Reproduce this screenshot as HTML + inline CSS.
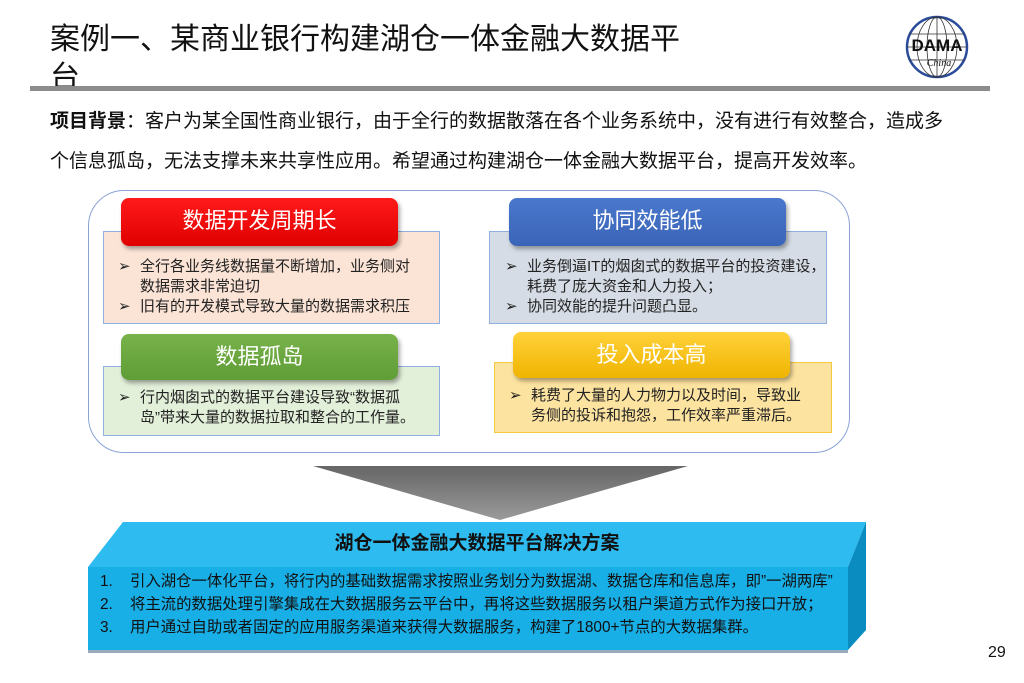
<!DOCTYPE html>
<html><head><meta charset="utf-8"><style>
*{margin:0;padding:0;box-sizing:border-box}
body{width:1024px;height:683px;background:#fff;position:relative;overflow:hidden;font-family:"Liberation Sans","Noto Sans CJK SC",sans-serif}
.a{position:absolute}
.t{font-size:30px;color:#111;line-height:36px}
.hd{position:absolute;border-radius:8px;color:#fff;font-size:22px;text-align:center;line-height:46px;box-shadow:2px 3px 4px rgba(0,0,0,.35)}
.bd{position:absolute;border:1.5px solid #8fb0e0}
.li{position:absolute;font-size:15px;line-height:20px;color:#222}
.li span{position:absolute;left:-22px}
</style></head><body>
<div class="a t" style="left:50px;top:22px">案例一、某商业银行构建湖仓一体金融大数据平</div>
<div class="a t" style="left:50px;top:60px">台</div>
<div class="a" style="left:30px;top:86px;width:960px;height:5px;background:#8c8c8c"></div>
<svg class="a" style="left:900px;top:14px" width="74" height="66" viewBox="0 0 74 66">
<circle cx="37" cy="33" r="30" fill="#fff" stroke="#2a4a9a" stroke-width="2.5"/>
<g stroke="#333" stroke-width="0.8" fill="none"><ellipse cx="37" cy="33" rx="10" ry="30"/><ellipse cx="37" cy="33" rx="20" ry="30"/><line x1="37" y1="3" x2="37" y2="63"/><line x1="9" y1="20" x2="65" y2="20"/><line x1="7" y1="33" x2="67" y2="33"/><line x1="9" y1="46" x2="65" y2="46"/></g>
<text x="37" y="37" font-family="Liberation Sans" font-weight="bold" font-size="17" text-anchor="middle" fill="#111">DAMA</text>
<text x="39" y="52" font-family="Liberation Serif" font-style="italic" font-size="10" text-anchor="middle" fill="#111">China</text>
</svg>
<div class="a" style="left:50px;top:102px;font-size:19px;line-height:40px;color:#111;width:960px;white-space:nowrap"><b>项目背景</b>：客户为某全国性商业银行，由于全行的数据散落在各个业务系统中，没有进行有效整合，造成多<br>个信息孤岛，无法支撑未来共享性应用。希望通过构建湖仓一体金融大数据平台，提高开发效率。</div>
<div class="a" style="left:88px;top:190px;width:762px;height:263px;border:1.5px solid #8aa4d6;border-radius:36px"></div>

<div class="bd" style="left:103px;top:231px;width:337px;height:93px;background:#fbe4d6"></div>
<div class="hd" style="left:121px;top:198px;width:277px;height:48px;background:linear-gradient(#ff1a1a,#e00000)">数据开发周期长</div>
<div class="li" style="left:140px;top:257px;width:275px"><span>➢</span>全行各业务线数据量不断增加，业务侧对数据需求非常迫切</div>
<div class="li" style="left:140px;top:297px;white-space:nowrap"><span>➢</span>旧有的开发模式导致大量的数据需求积压</div>

<div class="bd" style="left:103px;top:366px;width:337px;height:70px;background:#e2efd9"></div>
<div class="hd" style="left:121px;top:334px;width:277px;height:46px;background:linear-gradient(#78b24a,#5f9d36)">数据孤岛</div>
<div class="li" style="left:140px;top:388px;width:275px"><span>➢</span>行内烟囱式的数据平台建设导致“数据孤岛”带来大量的数据拉取和整合的工作量。</div>

<div class="bd" style="left:489px;top:231px;width:338px;height:93px;background:#d6dce5"></div>
<div class="hd" style="left:509px;top:198px;width:277px;height:48px;background:linear-gradient(#4a78cc,#3a64b8)">协同效能低</div>
<div class="li" style="left:527px;top:257px;width:300px"><span>➢</span>业务倒逼IT的烟囱式的数据平台的投资建设，耗费了庞大资金和人力投入；</div>
<div class="li" style="left:527px;top:297px"><span>➢</span>协同效能的提升问题凸显。</div>

<div class="bd" style="left:494px;top:362px;width:338px;height:71px;background:#fde3a0;border-color:#f5c842"></div>
<div class="hd" style="left:513px;top:332px;width:277px;height:46px;background:linear-gradient(#ffd23a,#f0b400)">投入成本高</div>
<div class="li" style="left:531px;top:386px;width:275px"><span>➢</span>耗费了大量的人力物力以及时间，导致业务侧的投诉和抱怨，工作效率严重滞后。</div>

<svg class="a" style="left:0;top:0" width="1024" height="683">
<defs><linearGradient id="g" x1="0" y1="0" x2="0" y2="1"><stop offset="0" stop-color="#666"/><stop offset="1" stop-color="#9a9a9a"/></linearGradient></defs>
<polygon points="313,466 688,466 500,520" fill="url(#g)"/>
<polygon points="123,522 866,522 848,567 88,567" fill="#2ebcf0"/>
<polygon points="866,522 866,630 848,650 848,567" fill="#0a8cc0"/>
<rect x="88" y="567" width="760" height="83" fill="#18aee6"/>
<rect x="88" y="650" width="760" height="3" fill="#9ab"/>
</svg>
<div class="a" style="left:88px;top:528px;width:778px;text-align:center;font-size:19px;font-weight:bold;color:#111">湖仓一体金融大数据平台解决方案</div>
<div class="a" style="left:100px;top:570px;font-size:15.4px;line-height:23px;color:#111;white-space:nowrap">
1.&nbsp;&nbsp;&nbsp;&nbsp;引入湖仓一体化平台，将行内的基础数据需求按照业务划分为数据湖、数据仓库和信息库，即”一湖两库”<br>
2.&nbsp;&nbsp;&nbsp;&nbsp;将主流的数据处理引擎集成在大数据服务云平台中，再将这些数据服务以租户渠道方式作为接口开放；<br>
3.&nbsp;&nbsp;&nbsp;&nbsp;用户通过自助或者固定的应用服务渠道来获得大数据服务，构建了1800+节点的大数据集群。</div>
<div class="a" style="left:988px;top:644px;font-size:16px;color:#111">29</div>
</body></html>
